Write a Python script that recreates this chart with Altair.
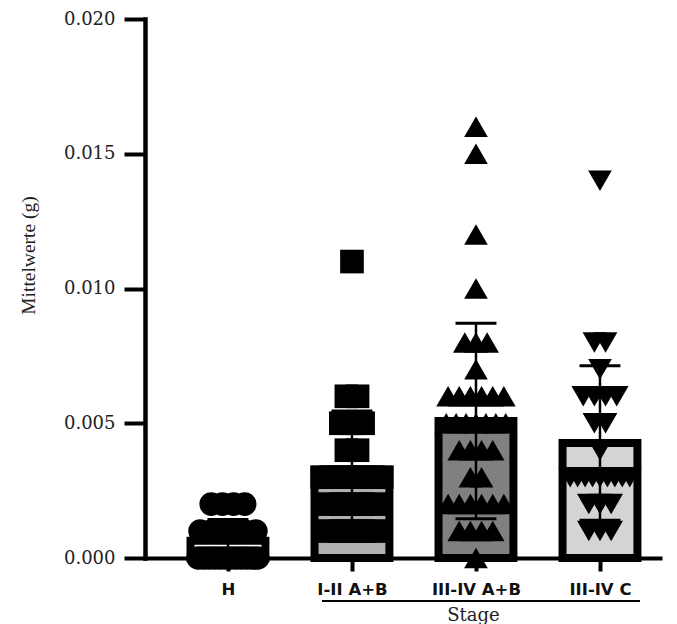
import json

import altair as alt
import pandas as pd

# Group labels along the x axis
categories = ["H", "I-II A+B", "III-IV A+B", "III-IV C"]

# Individual measurements per group (g)
h_values = [0.002, 0.002, 0.002, 0.002,
            0.001, 0.001, 0.001, 0.001, 0.001, 0.001,
            0.0, 0.0, 0.0, 0.0, 0.0, 0.0, 0.0, 0.0, 0.0, 0.0, 0.0, 0.0]
i_ii_ab_values = [0.011, 0.006, 0.006, 0.005, 0.005, 0.005, 0.004, 0.004,
                  0.003, 0.003, 0.003, 0.003, 0.003, 0.003, 0.003, 0.003,
                  0.002, 0.002, 0.002, 0.002, 0.002,
                  0.001, 0.001, 0.001, 0.001, 0.001]
iii_iv_ab_values = [0.016, 0.015, 0.012, 0.010,
                    0.008, 0.008, 0.008, 0.007,
                    0.006, 0.006, 0.006, 0.006, 0.006, 0.006,
                    0.005, 0.005, 0.005, 0.005, 0.005, 0.005, 0.005,
                    0.004, 0.004, 0.004, 0.004,
                    0.003, 0.003,
                    0.002, 0.002, 0.002, 0.002, 0.002, 0.002,
                    0.001, 0.001, 0.001, 0.001,
                    0.0]
iii_iv_c_values = [0.014, 0.008, 0.008, 0.007,
                   0.006, 0.006, 0.006, 0.006,
                   0.005, 0.005, 0.004,
                   0.003, 0.003, 0.003, 0.003, 0.003, 0.003, 0.003, 0.003, 0.003,
                   0.002, 0.002, 0.002,
                   0.001, 0.001, 0.001]

y_ticks = [0.0, 0.005, 0.010, 0.015, 0.020]

# Styling per group
bar_fills = ["#ffffff", "#b0b0b0", "#808080", "#d4d4d4"]
point_shapes = ["circle", "square", "triangle-up", "triangle-down"]

series = [h_values, i_ii_ab_values, iii_iv_ab_values, iii_iv_c_values]
rows = []
for i, (cat, vals) in enumerate(zip(categories, series)):
    for v in vals:
        rows.append({"group": cat, "idx": i, "value": v})
df = pd.DataFrame(rows)

x_scale = alt.Scale(domain=[-0.669, 3.484], nice=False, zero=False)
y_scale = alt.Scale(domain=[0, 0.02], nice=False)

x_axis = alt.Axis(
    values=[0, 1, 2, 3],
    labelExpr=json.dumps(categories) + "[datum.value]",
    title="Stage",
    titleFont="DejaVu Serif",
    titleFontSize=18,
    titleFontWeight="normal",
    titleColor="#222222",
    titleX=328,
    titleY=62,
    titleBaseline="alphabetic",
    labelFont="DejaVu Sans",
    labelFontWeight="bold",
    labelFontSize=16.5,
    labelColor="#111111",
    labelPadding=10,
    tickSize=13,
    tickWidth=4,
    tickColor="black",
    domainColor="black",
    domainWidth=4,
    domainCap="square",
    grid=False,
)

y_axis = alt.Axis(
    values=y_ticks,
    format=".3f",
    title="Mittelwerte (g)",
    titleFont="Liberation Serif",
    titleFontSize=19.5,
    titleFontWeight="normal",
    titleColor="#222222",
    titleAngle=270,
    titleX=-117,
    titleY=236,
    titleBaseline="middle",
    labelFont="DejaVu Serif",
    labelFontSize=18,
    labelColor="#222222",
    labelPadding=9,
    tickSize=21,
    tickWidth=4,
    tickColor="black",
    domainColor="black",
    domainWidth=4.5,
    domainCap="square",
    grid=False,
)

base = alt.Chart(df)

# Mean and standard deviation per group
stats = base.transform_aggregate(
    mean="mean(value)", sd="stdev(value)", groupby=["group", "idx"]
).transform_calculate(
    left="datum.idx - 0.302",
    right="datum.idx + 0.302",
    hi="datum.mean + datum.sd",
    lo="max(datum.mean - datum.sd, 0)",
    cap_l="datum.idx - 0.165",
    cap_r="datum.idx + 0.165",
)

bars = stats.mark_rect(stroke="black", strokeWidth=8, strokeJoin="miter").encode(
    x=alt.X("left:Q", scale=x_scale, axis=x_axis),
    x2="right:Q",
    y=alt.Y("mean:Q", scale=y_scale, axis=y_axis),
    y2=alt.datum(0),
    fill=alt.Fill("group:N", scale=alt.Scale(domain=categories, range=bar_fills), legend=None),
)

# Individual points, spread sideways when several share a value
points = base.transform_joinaggregate(
    n="count()", groupby=["group", "value"]
).transform_window(
    r="row_number()", groupby=["group", "value"]
).transform_calculate(
    xpos="datum.idx + (datum.r - 1 - (datum.n - 1) / 2) * min(0.09, 0.48 / max(datum.n - 1, 1))"
).mark_point(filled=True, opacity=1, size=560, color="black", strokeWidth=0).encode(
    x=alt.X("xpos:Q", scale=x_scale, axis=x_axis),
    y=alt.Y("value:Q", scale=y_scale, axis=y_axis),
    shape=alt.Shape("group:N", scale=alt.Scale(domain=categories, range=point_shapes), legend=None),
)

whisker = stats.mark_rule(color="black", strokeWidth=2.5).encode(
    x=alt.X("idx:Q", scale=x_scale, axis=x_axis),
    y=alt.Y("lo:Q", scale=y_scale, axis=y_axis),
    y2="hi:Q",
)
cap_hi = stats.mark_rule(color="black", strokeWidth=3).encode(
    x=alt.X("cap_l:Q", scale=x_scale, axis=x_axis),
    x2="cap_r:Q",
    y=alt.Y("hi:Q", scale=y_scale, axis=y_axis),
)
cap_lo = stats.mark_rule(color="black", strokeWidth=3).encode(
    x=alt.X("cap_l:Q", scale=x_scale, axis=x_axis),
    x2="cap_r:Q",
    y=alt.Y("lo:Q", scale=y_scale, axis=y_axis),
)

# Bracket line under the three tumour-stage labels
bracket_df = pd.DataFrame({"start": [categories.index("I-II A+B") - 0.242],
                           "end": [categories.index("III-IV C") + 0.323]})
bracket = alt.Chart(bracket_df).mark_rule(color="black", strokeWidth=2).encode(
    x=alt.X("start:Q", scale=x_scale, axis=x_axis),
    x2="end:Q",
    y=alt.value(582),
)

chart = alt.layer(bars, points, whisker, cap_hi, cap_lo, bracket).properties(
    width=515,
    height=539,
    autosize="none",
    padding={"left": 145, "top": 19, "right": 17, "bottom": 66},
    background="white",
).configure_view(stroke=None)

chart.save("out.html", embed_options={"renderer": "svg", "actions": False})
